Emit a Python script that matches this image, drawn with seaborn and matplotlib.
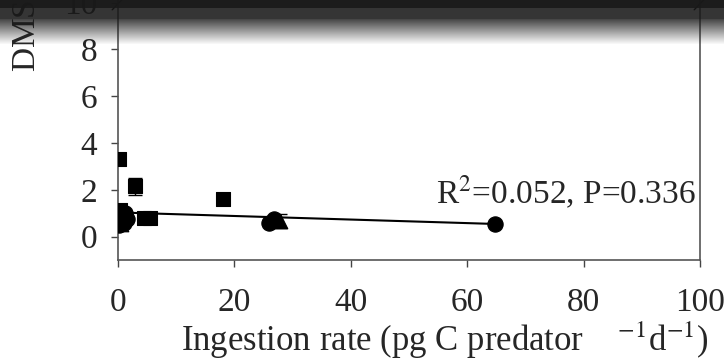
import numpy as np
import pandas as pd
import seaborn as sns
import matplotlib.pyplot as plt

# data
sq_x = [0.2, 0.3, 0.5, 0.8, 3.0, 4.5, 5.5, 18.0]
sq_y = [3.3, 1.15, 0.9, 0.7, 2.15, 0.8, 0.8, 1.6]
sq_err = [0.15, 0.2, 0.15, 0.1, 0.35, 0.1, 0.1, 0.15]

ci_x = [0.2, 0.3, 0.4, 0.6, 0.7, 1.0, 1.2, 1.5, 26.0, 26.8, 64.7]
ci_y = [0.5, 0.65, 0.85, 0.8, 0.65, 0.6, 1.0, 0.75, 0.6, 0.75, 0.55]
ci_err = [0.1, 0.1, 0.1, 0.1, 0.1, 0.1, 0.1, 0.1, 0.1, 0.1, 0.08]

tri_x = [0.5, 27.8]
tri_y = [0.55, 0.65]
tri_err = [0.1, 0.3]

x_ticks = [0, 20, 40, 60, 80, 100]
y_ticks = [0, 2, 4, 6, 8, 10]
stat_text = "R$^2$=0.052, P=0.336"

df = pd.concat([
    pd.DataFrame({"x": sq_x, "y": sq_y, "err": sq_err, "grp": "sq"}),
    pd.DataFrame({"x": ci_x, "y": ci_y, "err": ci_err, "grp": "ci"}),
    pd.DataFrame({"x": tri_x, "y": tri_y, "err": tri_err, "grp": "tri"}),
], ignore_index=True)

sns.set_style("ticks")
plt.rcParams["font.family"] = ["Liberation Serif", "DejaVu Serif"]
plt.rcParams["mathtext.fontset"] = "stix"

fig = plt.figure(figsize=(7.24, 3.64), dpi=100)
ax = fig.add_axes([118 / 724, 104 / 364, 582 / 724, 269 / 364])

# error bars
for g, d in df.groupby("grp"):
    ax.errorbar(d["x"], d["y"], yerr=d["err"], fmt="none", ecolor="black",
                elinewidth=1, capsize=5, capthick=1, zorder=2)

sizes = {"sq": 95, "ci": 120, "tri": 110}
marks = {"sq": "s", "ci": "o", "tri": "^"}
for g, d in df.groupby("grp"):
    sns.scatterplot(x="x", y="y", data=d, marker=marks[g], s=sizes[g],
                    color="black", edgecolor="black", ax=ax, zorder=3, legend=False)

# regression line
sns.regplot(x="x", y="y", data=df, scatter=False, ci=None, ax=ax,
            line_kws={"color": "black", "lw": 1.5, "zorder": 4})

ax.set_xlim(0, 100)
ax.set_ylim(-1, 10.5)
ax.set_xticks(x_ticks)
ax.set_yticks(y_ticks)
ax.tick_params(axis="both", labelsize=24, length=5, width=1, color="#444")
ax.tick_params(axis="x", pad=15)
ax.tick_params(axis="y", pad=10)
for s in ax.spines.values():
    s.set_color("#555")
    s.set_linewidth(1.2)

ax.set_xlabel("Ingestion rate (pg C predator    $^{-1}$d$^{-1}$)", fontsize=25)
ax.xaxis.label.set_va("center")
ax.xaxis.set_label_coords((445 - 118) / 582, -(340 - 260) / 269)
ax.set_ylabel("")
fig.text(25 / 724, 1 - 72 / 364, "DMSP production (nM d$^{-1}$)", rotation=90,
         ha="center", va="bottom", fontsize=24)

ax.text((436 - 118) / 582, (260 - 192) / 269, stat_text, transform=ax.transAxes,
        fontsize=24, va="center", ha="left")

# axis break marks
for xb in (0, 1):
    ax.plot([xb - 0.01, xb + 0.01], [0.93, 0.975], transform=ax.transAxes,
            color="black", lw=1, clip_on=False)

# dark band at the top of the screenshot
band = fig.add_axes([0, 1 - 45 / 364, 1, 45 / 364], zorder=10)
rgba = np.zeros((45, 2, 4))
a = np.concatenate([np.full(8, 0.99), np.full(11, 0.88), np.linspace(0.8, 0.0, 26)])
rgba[:, :, 0:3] = 0.1
rgba[:, :, 3] = a[:, None]
band.imshow(rgba, aspect="auto", extent=[0, 1, 0, 1])
band.axis("off")

fig.savefig("out.png", dpi=100)
